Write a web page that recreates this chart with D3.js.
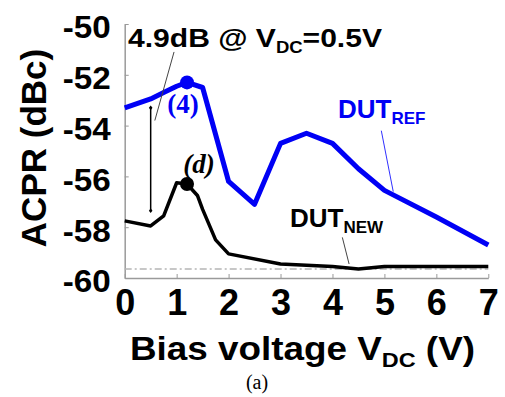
<!DOCTYPE html>
<html>
<head>
<meta charset="utf-8">
<script src="https://cdn.jsdelivr.net/npm/d3@7/dist/d3.min.js"></script>
<style>
  html, body { margin: 0; padding: 0; background: #fff; }
  svg { display: block; }
  .sans { font-family: "Liberation Sans", Arial, sans-serif; font-weight: bold; }
  .serif { font-family: "Liberation Serif", "Times New Roman", serif; }
</style>
</head>
<body>
<div id="chart"></div>
<script>
// bias voltage (V) and ACPR (dBc)
const biasRef = [0, 0.5, 0.75, 1, 1.2, 1.5, 2, 2.5, 3, 3.5, 4, 4.5, 5, 6, 7];
const acprRef = [-53.3, -52.95, -52.7, -52.45, -52.3, -52.5, -56.2, -57.1, -54.7, -54.3, -54.7, -55.7, -56.55, -57.6, -58.7];
const biasNew = [0, 0.5, 0.75, 1, 1.2, 1.4, 1.5, 1.75, 2, 3, 4, 4.5, 5, 6, 7];
const acprNew = [-57.75, -57.95, -57.55, -56.25, -56.3, -56.75, -57.3, -58.5, -59.05, -59.45, -59.55, -59.65, -59.55, -59.55, -59.55];

const xTicks = [0, 1, 2, 3, 4, 5, 6, 7];
const yTicks = [-60, -58, -56, -54, -52, -50];

// highlighted points and annotations
const peakBias = [1.2, 1.2];
const peakAcpr = [-52.3, -56.3];
const deltaBias = 0.5;
const deltaAcpr = [-53.3, -57.35];
const floorAcpr = -59.65;

const W = 505, H = 397;
const margin = { top: 24, right: 16.7, bottom: 119, left: 124.7 };

const svg = d3.select('#chart').append('svg')
  .attr('width', W)
  .attr('height', H);

svg.append('rect').attr('width', W).attr('height', H).attr('fill', '#fff');

const x = d3.scaleLinear().domain([0, 7]).range([margin.left, W - margin.right]);
const y = d3.scaleLinear().domain([-60, -50]).range([H - margin.bottom, margin.top]);

const axisColor = '#9a9a9a';

// axes (ticks point inward), plain hyphen for minus
const gx = svg.append('g')
  .attr('transform', `translate(0,${y(-60)})`)
  .call(d3.axisBottom(x).tickValues(xTicks).tickSize(-4).tickSizeOuter(0).tickPadding(11).tickFormat(d => String(d)));
const gy = svg.append('g')
  .attr('transform', `translate(${x(0)},0)`)
  .call(d3.axisLeft(y).tickValues(yTicks).tickSize(-4).tickSizeOuter(0).tickPadding(14).tickFormat(d => String(d)));

[gx, gy].forEach(g => {
  g.select('.domain').attr('stroke', axisColor).attr('stroke-width', 1.5);
  g.selectAll('.tick line').attr('stroke', axisColor).attr('stroke-width', 1);
  g.selectAll('.tick text').attr('class', 'sans').attr('fill', '#000');
});
gx.selectAll('.tick text').attr('font-size', 36);
gy.selectAll('.tick text').attr('font-size', 31).attr('dy', '0.45em')
  .attr('textLength', 48).attr('lengthAdjust', 'spacingAndGlyphs');

// noise floor reference (dash-dot)
svg.append('line')
  .attr('x1', x(0)).attr('x2', x(7))
  .attr('y1', y(floorAcpr)).attr('y2', y(floorAcpr))
  .attr('stroke', '#b5b5b5').attr('stroke-width', 1.5)
  .attr('stroke-dasharray', '7,3,2,3');

const line = d3.line().x(d => x(d[0])).y(d => y(d[1]));

svg.append('path')
  .datum(d3.zip(biasRef, acprRef))
  .attr('d', line)
  .attr('fill', 'none')
  .attr('stroke', '#0000f5')
  .attr('stroke-width', 5)
  .attr('stroke-linejoin', 'round');

svg.append('path')
  .datum(d3.zip(biasNew, acprNew))
  .attr('d', line)
  .attr('fill', 'none')
  .attr('stroke', '#000')
  .attr('stroke-width', 3.5)
  .attr('stroke-linejoin', 'round');

// peak markers
svg.selectAll('.peak')
  .data(d3.zip(peakBias, peakAcpr))
  .enter().append('circle')
  .attr('class', 'peak')
  .attr('cx', d => x(d[0]))
  .attr('cy', d => y(d[1]))
  .attr('r', 7)
  .attr('fill', (d, i) => i === 0 ? '#0000f5' : '#000');

// 4.9 dB double arrow
const defs = svg.append('defs');
['start', 'end'].forEach(k => {
  defs.append('marker')
    .attr('id', 'tip-' + k)
    .attr('viewBox', '-5 -5 10 10')
    .attr('markerWidth', 6).attr('markerHeight', 6)
    .attr('markerUnits', 'userSpaceOnUse')
    .attr('orient', 'auto')
    .append('path')
    .attr('d', 'M-4,0L0,-3L4,0L0,3Z')
    .attr('fill', '#000');
});
svg.append('line')
  .attr('x1', x(deltaBias)).attr('x2', x(deltaBias))
  .attr('y1', y(deltaAcpr[0])).attr('y2', y(deltaAcpr[1]))
  .attr('stroke', '#000').attr('stroke-width', 1.5)
  .attr('marker-start', 'url(#tip-start)')
  .attr('marker-end', 'url(#tip-end)');

// leader lines
const leader = (x1, y1, x2, y2, color) => svg.append('line')
  .attr('x1', x(x1)).attr('y1', y(y1))
  .attr('x2', x(x2)).attr('y2', y(y2))
  .attr('stroke', color).attr('stroke-width', 1);
leader(0.95, -51.1, 0.58, -53.8, '#444');
leader(4.94, -54.2, 5.17, -56.6, '#3030ff');
leader(4.19, -58.4, 4.32, -59.45, '#444');

// annotation text
const ann = svg.append('text').attr('class', 'sans')
  .attr('x', 128).attr('y', 47).attr('font-size', 26)
  .attr('textLength', 254).attr('lengthAdjust', 'spacingAndGlyphs');
ann.append('tspan').text('4.9dB @ V');
ann.append('tspan').attr('font-size', 16).attr('dy', 6).text('DC');
ann.append('tspan').attr('dy', -6).text('=0.5V');

// series labels
const dutLabel = (tx, ty, sub, color) => {
  const t = svg.append('text').attr('class', 'sans')
    .attr('x', tx).attr('y', ty).attr('font-size', 26).attr('fill', color);
  t.append('tspan').text('DUT');
  t.append('tspan').attr('font-size', 17).attr('dy', 6).text(sub);
};
dutLabel(338, 118, 'REF', '#0000f5');
dutLabel(290, 227, 'NEW', '#000');

svg.append('text').attr('class', 'serif')
  .attr('x', 183).attr('y', 113).attr('text-anchor', 'middle')
  .attr('font-size', 27).attr('font-weight', 'bold').attr('fill', '#0000f5')
  .text('(4)');
svg.append('text').attr('class', 'serif')
  .attr('x', 199).attr('y', 173).attr('text-anchor', 'middle')
  .attr('font-size', 27).attr('font-weight', 'bold').attr('font-style', 'italic').attr('fill', '#000')
  .text('(d)');

// axis titles
const xt = svg.append('text').attr('class', 'sans')
  .attr('x', 130).attr('y', 360).attr('font-size', 33)
  .attr('textLength', 345).attr('lengthAdjust', 'spacingAndGlyphs');
xt.append('tspan').text('Bias voltage V');
xt.append('tspan').attr('font-size', 21).attr('dy', 7).text('DC');
xt.append('tspan').attr('dy', -7).text(' (V)');

svg.append('text').attr('class', 'sans')
  .attr('transform', `translate(46,148) rotate(-90)`)
  .attr('text-anchor', 'middle')
  .attr('font-size', 35)
  .text('ACPR (dBc)');

svg.append('text').attr('class', 'serif')
  .attr('x', 257).attr('y', 389).attr('text-anchor', 'middle')
  .attr('font-size', 20)
  .text('(a)');
</script>
</body>
</html>
